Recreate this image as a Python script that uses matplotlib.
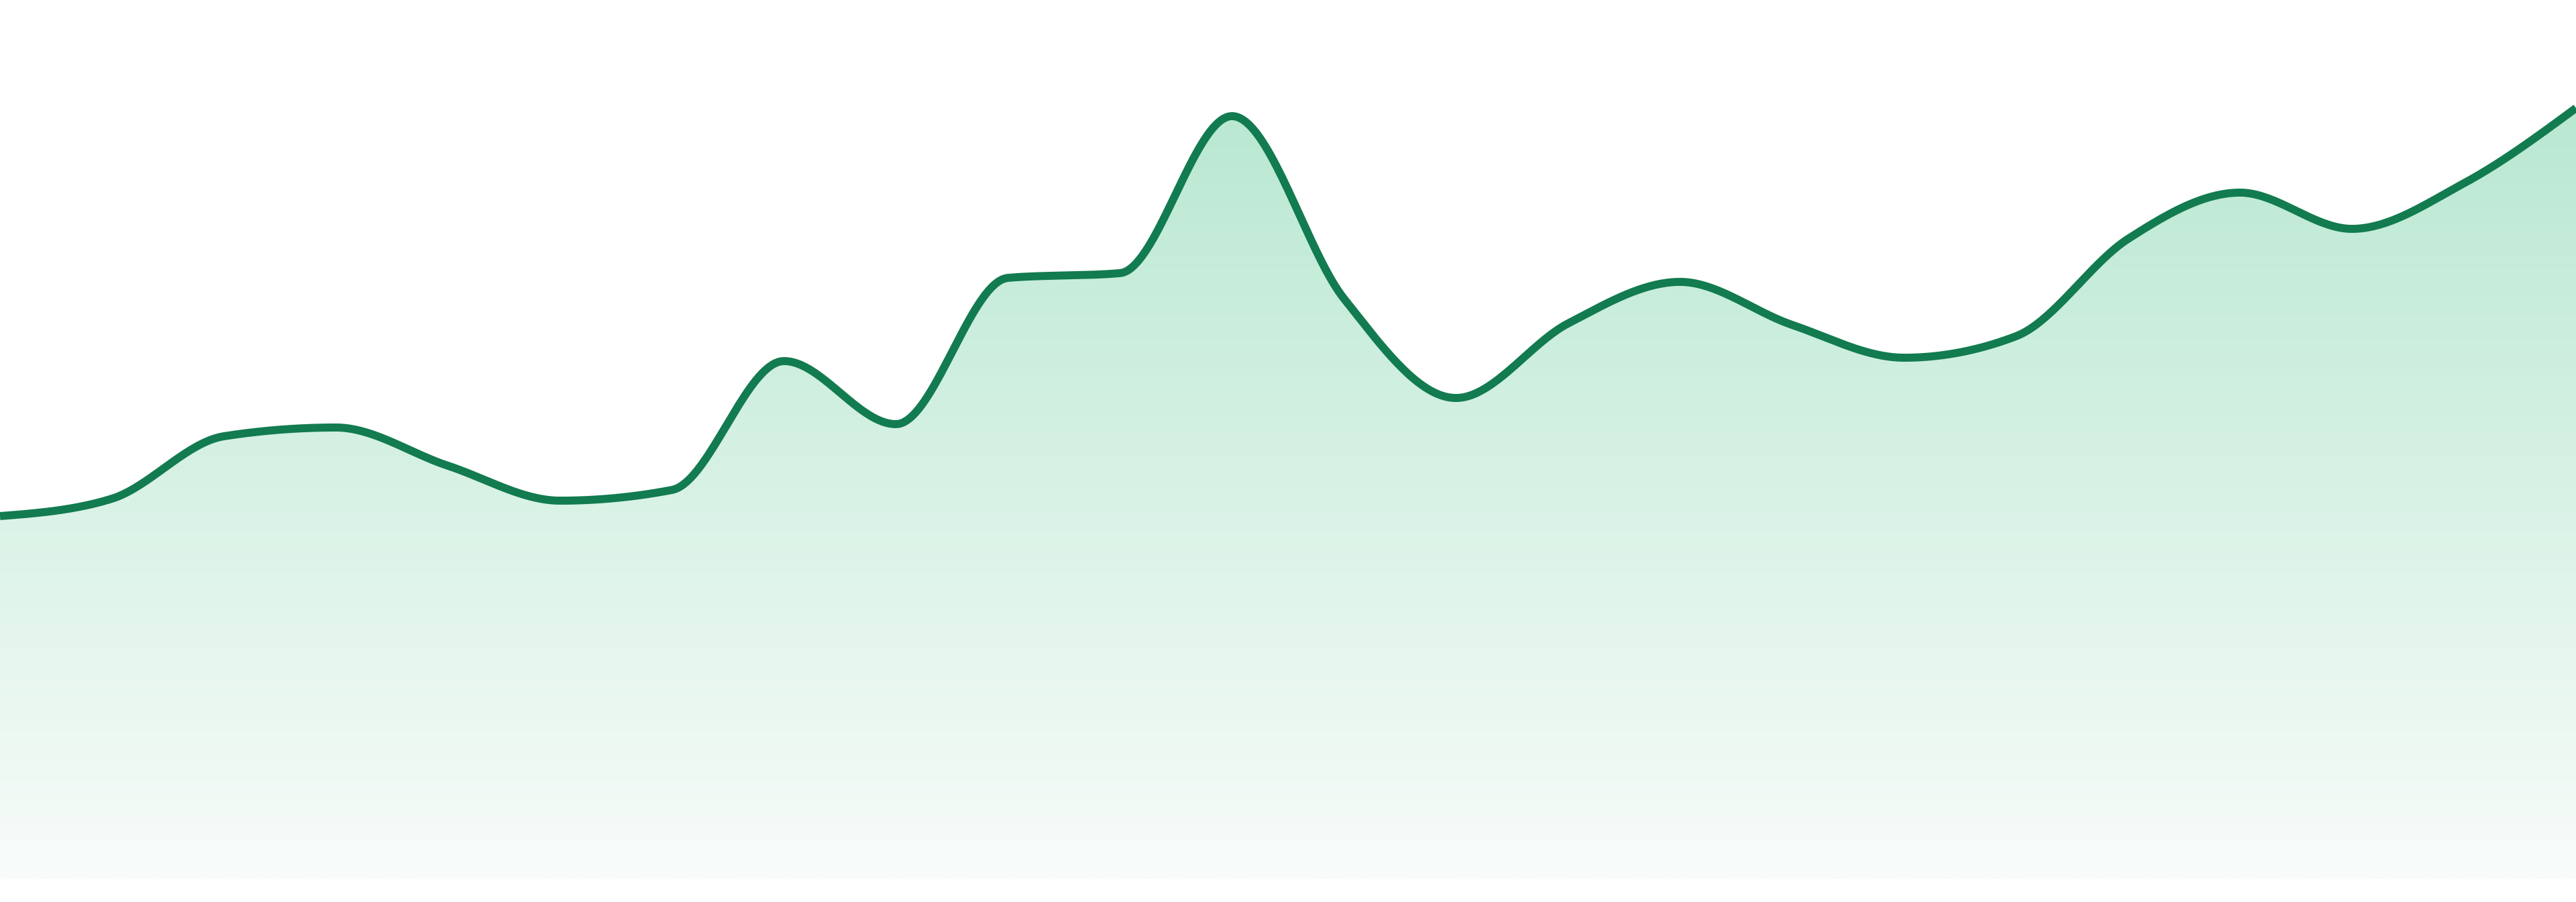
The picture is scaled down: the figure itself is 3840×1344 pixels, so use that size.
import numpy as np
import matplotlib
matplotlib.use("Agg")
import matplotlib.pyplot as plt
from matplotlib.colors import LinearSegmentedColormap

# values, one per step
steps = list(range(24))
values = [54.1, 56.7, 66.0, 67.3, 61.6, 56.4, 58.0, 77.2, 67.8, 89.6, 90.3, 113.7,
          86.5, 71.7, 82.8, 89.0, 82.6, 77.7, 80.9, 95.4, 102.3, 96.9, 103.7, 114.9]

line_color = "#127b50"
fill_top = "#b9e8d2"
fill_bottom = "#f8fcfa"


def monotone_x(x, y, n=40):
    # same tangents as d3.curveMonotoneX
    x = np.asarray(x, float)
    y = np.asarray(y, float)
    h = np.diff(x)
    s = np.diff(y) / h
    t = np.zeros_like(y)
    for i in range(1, len(y) - 1):
        p = (s[i - 1] * h[i] + s[i] * h[i - 1]) / (h[i - 1] + h[i])
        t[i] = (np.sign(s[i - 1]) + np.sign(s[i])) * min(abs(s[i - 1]), abs(s[i]), 0.5 * abs(p))
    t[0] = (3 * s[0] - t[1]) / 2
    t[-1] = (3 * s[-1] - t[-2]) / 2
    xs, ys = [], []
    for i in range(len(h)):
        u = np.linspace(0, 1, n, endpoint=(i == len(h) - 1))
        h00 = 2 * u**3 - 3 * u**2 + 1
        h10 = u**3 - 2 * u**2 + u
        h01 = -2 * u**3 + 3 * u**2
        h11 = u**3 - u**2
        xs.append(x[i] + u * h[i])
        ys.append(h00 * y[i] + h10 * h[i] * t[i] + h01 * y[i + 1] + h11 * h[i] * t[i + 1])
    return np.concatenate(xs), np.concatenate(ys)


xs, ys = monotone_x(steps, values)

fig = plt.figure(figsize=(38.4, 13.44), dpi=100)
ax = fig.add_axes([0, 34 / 1344, 1, 1 - 34 / 1344])
ax.set_xlim(steps[0], steps[-1])
ax.set_ylim(0, 131)
ax.axis("off")

# vertical gradient under the curve
cmap = LinearSegmentedColormap.from_list("g", [fill_bottom, fill_top])
grad = np.linspace(0, 1, 512).reshape(-1, 1)
top = max(values)
img = ax.imshow(grad, cmap=cmap, aspect="auto", origin="lower",
                extent=[steps[0], steps[-1], 0, top], zorder=1)
poly = ax.fill_between(xs, ys, 0, facecolor="none", edgecolor="none")
img.set_clip_path(poly.get_paths()[0], transform=ax.transData)

ax.plot(xs, ys, color=line_color, lw=8.6, solid_capstyle="butt",
        solid_joinstyle="round", zorder=3)

fig.savefig("out.png", dpi=100)
